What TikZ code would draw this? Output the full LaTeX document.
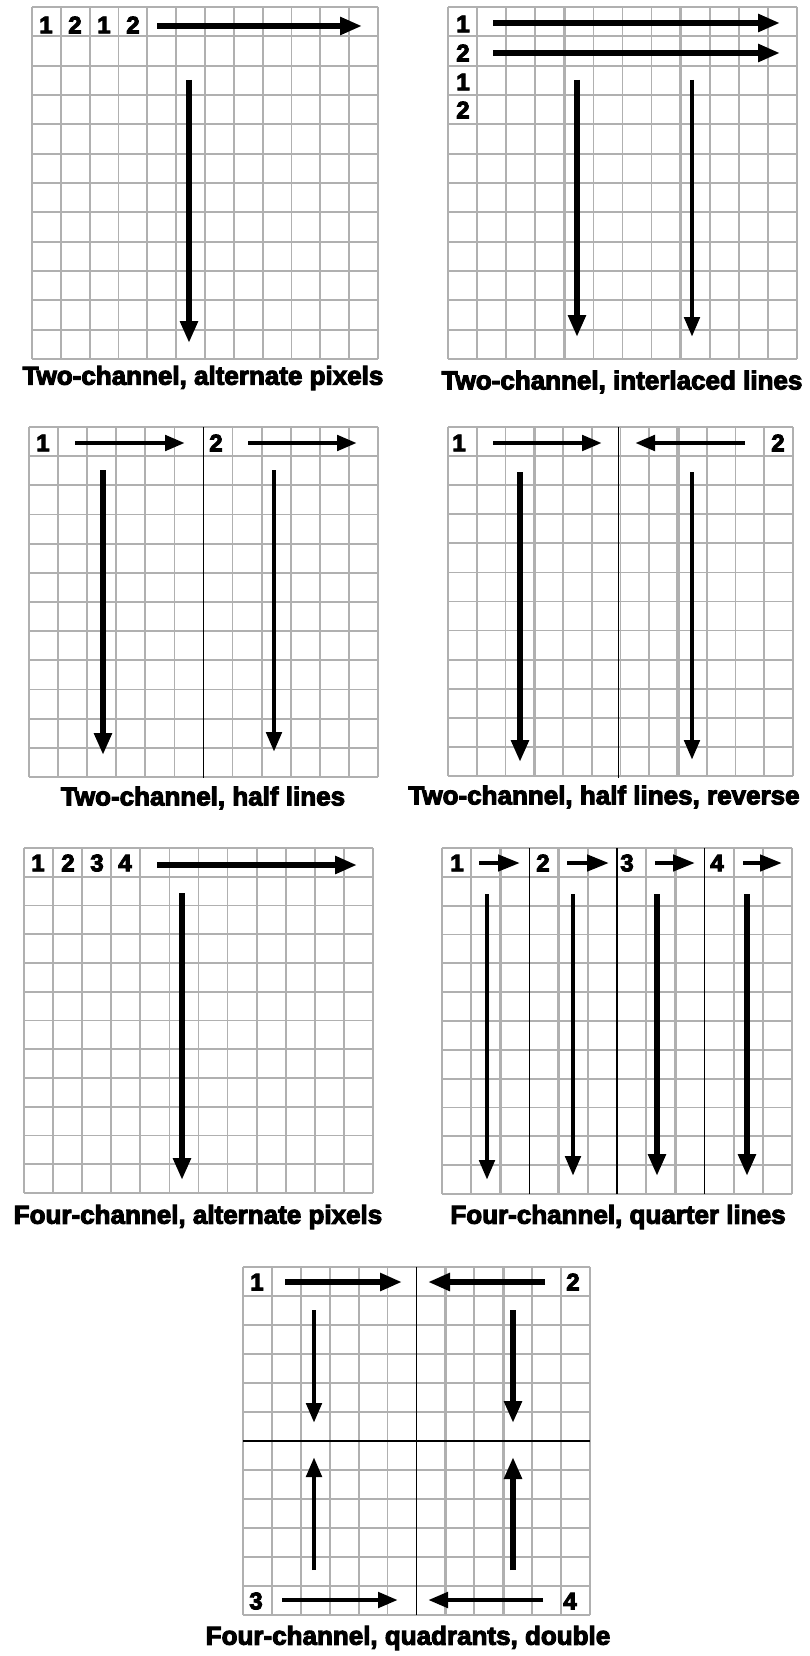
\documentclass[tikz,border=0pt]{standalone}
\usepackage{fontspec}
\setmainfont{Liberation Sans}
\font\capfont="Liberation Sans/B:embolden=4" at 26pt
\font\numfont="Liberation Sans/B:embolden=4" at 24pt
\usetikzlibrary{arrows.meta}
\tikzset{
  gridline/.style={draw=gray!62, line width=1.7pt},
  gridthick/.style={draw=gray!62, line width=3.4pt},
  divider/.style={draw=black, line width=1.8pt},
  arr/.style={line width=6.2pt, -{Triangle[length=22pt,width=17pt]}},
  arrthin/.style={line width=4.8pt, -{Triangle[length=20pt,width=15pt]}},
  arrsmall/.style={line width=4.5pt, -{Triangle[length=22pt,width=16pt]}},
  num/.style={font=\numfont, inner sep=0pt},
  caption/.style={font=\capfont, inner sep=0pt},
}
\newcommand{\panelgrid}[4]{%
  \foreach \i in {0,...,12}{%
    \draw[gridline] ({#1+(#3-#1)*\i/12},#2) -- ({#1+(#3-#1)*\i/12},#4);
    \draw[gridline] (#1,{#2+(#4-#2)*\i/12}) -- (#3,{#2+(#4-#2)*\i/12});
  }}
\newcommand{\vthick}[5]{%
  \draw[gridthick] ({#1+(#3-#1)*#5/12},#2) -- ({#1+(#3-#1)*#5/12},#4);}
\begin{document}
\begin{tikzpicture}[x=1pt,y=-1pt]
\fill[white] (0,0) rectangle (810,1656);
\useasboundingbox (0,0) rectangle (810,1656);

% ---------- Panel 1: Two-channel, alternate pixels
\panelgrid{32}{7}{378}{359}
\node[num] (p1a) at (46,25) {1};
\node[num] (p1b) at (75,25) {2};
\node[num] (p1c) at (104,25) {1};
\node[num] (p1d) at (133,25) {2};
\draw[arr] (157,26) -- (362,26);
\draw[arr] (189,80) -- (189,343);
\node[caption] (c1) at (203,378) {Two-channel, alternate pixels};

% ---------- Panel 2: Two-channel, interlaced lines
\panelgrid{448}{7}{797}{359}
\vthick{448}{7}{797}{359}{4}
\vthick{448}{7}{797}{359}{8}
\node[num] (p2a) at (463,24) {1};
\node[num] (p2b) at (463,53) {2};
\node[num] (p2c) at (463,82) {1};
\node[num] (p2d) at (463,110) {2};
\draw[arr] (493,23) -- (780,23);
\draw[arr] (493,53) -- (780,53);
\draw[arr] (577,80) -- (577,337);
\draw[arrthin] (692,80) -- (692,337);
\node[caption] (c2) at (622,382) {Two-channel, interlaced lines};

% ---------- Panel 3: Two-channel, half lines
\panelgrid{29}{427}{378}{777}
\draw[divider] (203.5,427) -- (203.5,778);
\node[num] (p3a) at (43,443) {1};
\node[num] (p3b) at (216,443) {2};
\draw[arrthin] (75,443) -- (185,443);
\draw[arrthin] (248,443) -- (357,443);
\draw[arr] (103,470) -- (103,755);
\draw[arrthin] (274,470) -- (274,752);
\node[caption] (c3) at (203,798) {Two-channel, half lines};

% ---------- Panel 4: Two-channel, half lines, reverse
\panelgrid{448}{427}{793}{776}
\vthick{448}{427}{793}{776}{3}
\vthick{448}{427}{793}{776}{8}
\draw[divider] (618.5,427) -- (618.5,778);
\node[num] (p4a) at (459,443) {1};
\node[num] (p4b) at (778,443) {2};
\draw[arrthin] (493,443) -- (602,443);
\draw[arrthin] (745,443) -- (635,443);
\draw[arr] (520,472) -- (520,762);
\draw[arrthin] (692,472) -- (692,760);
\node[caption] (c4) at (604,797) {Two-channel, half lines, reverse};

% ---------- Panel 5: Four-channel, alternate pixels
\panelgrid{24}{848}{373}{1193}
\node[num] (p5a) at (38,863) {1};
\node[num] (p5b) at (68,863) {2};
\node[num] (p5c) at (97,863) {3};
\node[num] (p5d) at (125,863) {4};
\draw[arr] (157,865) -- (357,865);
\draw[arr] (182,893) -- (182,1180);
\node[caption] (c5) at (198,1217) {Four-channel, alternate pixels};

% ---------- Panel 6: Four-channel, quarter lines
\panelgrid{442}{848}{792}{1194}
\vthick{442}{848}{792}{1194}{2}
\vthick{442}{848}{792}{1194}{4}
\vthick{442}{848}{792}{1194}{8}
\draw[divider] (529.5,848) -- (529.5,1194);
\draw[divider] (617,848) -- (617,1194);
\draw[divider] (704.5,848) -- (704.5,1194);
\node[num] (p6a) at (457,863) {1};
\node[num] (p6b) at (543,863) {2};
\node[num] (p6c) at (627,863) {3};
\node[num] (p6d) at (717,863) {4};
\draw[arrsmall] (479,863) -- (520,863);
\draw[arrsmall] (567,863) -- (609,863);
\draw[arrsmall] (655,863) -- (695,863);
\draw[arrsmall] (743,863) -- (782,863);
\draw[arrthin] (487,894) -- (487,1180);
\draw[arrthin] (573,894) -- (573,1176);
\draw[arr] (657,894) -- (657,1176);
\draw[arr] (747,894) -- (747,1176);
\node[caption] (c6) at (618,1217) {Four-channel, quarter lines};

% ---------- Panel 7: Four-channel, quadrants, double
\panelgrid{243}{1267}{590}{1615}
\vthick{243}{1267}{590}{1615}{7}
\vthick{243}{1267}{590}{1615}{9}
\draw[divider] (416.5,1267) -- (416.5,1615);
\draw[divider] (243,1441) -- (590,1441);
\node[num] (p7a) at (257,1282) {1};
\node[num] (p7b) at (573,1282) {2};
\node[num] (p7c) at (256,1601) {3};
\node[num] (p7d) at (570,1601) {4};
\draw[arr] (285,1282) -- (402,1282);
\draw[arr] (545,1282) -- (428,1282);
\draw[arrthin] (282,1600) -- (398,1600);
\draw[arrthin] (543,1600) -- (428,1600);
\draw[arrthin] (314,1310) -- (314,1423);
\draw[arr] (513,1310) -- (513,1423);
\draw[arrthin] (314,1570) -- (314,1457);
\draw[arr] (513,1570) -- (513,1457);
\node[caption] (c7) at (408,1638) {Four-channel, quadrants, double};
\end{tikzpicture}
\end{document}
